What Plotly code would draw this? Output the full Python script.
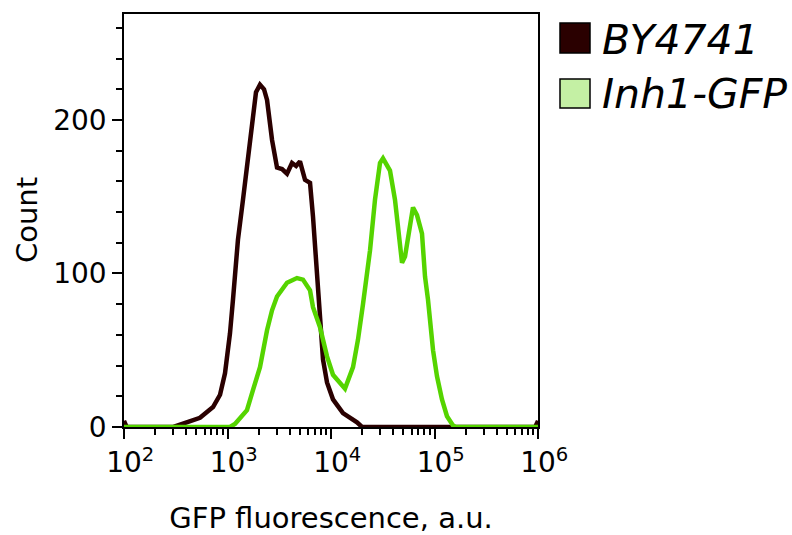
import plotly.graph_objects as go

# ---- data ----
by_x = [100, 106, 300, 372, 542, 725, 847, 946, 1057, 1130, 1262, 1411, 1578, 1726, 1885, 2060,
        2253, 2410, 2693, 3009, 3363, 3758, 4200, 4600, 5014, 5610, 6270, 6700, 7330, 7660,
        8000, 8370, 9150, 10450, 13050, 17830, 19950, 940000, 1000000]
by_y = [4, 0, 0, 2, 6, 13, 21, 35, 61, 83, 122, 148, 176, 200, 218, 223,
        220, 213, 187, 169, 168, 165, 172, 170, 173, 161, 159, 137, 104, 83,
        63, 44, 29, 18, 9, 3, 0, 0, 4]

gfp_x = [100, 1057, 1180, 1321, 1542, 1762, 2060, 2410, 2693, 3009, 3758, 4690, 5360, 6270,
         6700, 7830, 9150, 10450, 12220, 13650, 16320, 18240, 20380, 23820, 26610, 29740,
         31790, 37150, 41520, 46410, 48540, 51890, 57980, 61980, 67760, 75730, 80960, 86500,
         96800, 105700, 118100, 132000, 151000, 160000, 1000000]
gfp_y = [0, 0, 2, 6, 11, 24, 39, 63, 76, 85, 94, 97, 96, 89,
         78, 65, 46, 34, 29, 25, 39, 57, 80, 115, 148, 172,
         175, 167, 148, 122, 107, 111, 133, 143, 138, 126, 98, 83,
         50, 33, 18, 7, 1, 0, 0]

series_names = ["BY4741", "Inh1-GFP"]
line_colors = ["#2a0000", "#55d400"]
legend_fill = ["#2a0000", "#c4f0a4"]

x_major = [1e2, 1e3, 1e4, 1e5, 1e6]
x_major_text = ["<sup>&nbsp;&nbsp;</sup>10<sup>%d</sup>" % e for e in range(2, 7)]
x_minor = [k * 10 ** e for e in range(2, 6) for k in range(2, 10)]
y_major = [0, 100, 200]

FONT = "DejaVu Sans"

fig = go.Figure()
fig.add_trace(go.Scatter(x=by_x, y=by_y, mode="lines", name=series_names[0],
                         line=dict(color=line_colors[0], width=4.5), showlegend=False))
fig.add_trace(go.Scatter(x=gfp_x, y=gfp_y, mode="lines", name=series_names[1],
                         line=dict(color=line_colors[1], width=4.5), showlegend=False))

# legend drawn as squares + italic labels
L, R, T, B = 124, 538, 14, 427
def px(x):
    return (x - L) / (R - L)
def py(y):
    return (B - y) / (B - T)

leg_rows = [(23, 53, 40), (79, 108, 94)]
for i, (y0, y1, yc) in enumerate(leg_rows):
    fig.add_shape(type="rect", xref="paper", yref="paper",
                  x0=px(560), x1=px(590), y0=py(y1), y1=py(y0),
                  fillcolor=legend_fill[i], line=dict(color="black", width=1.5))
    fig.add_annotation(xref="paper", yref="paper", x=px(600), y=py(yc),
                       xanchor="left", yanchor="middle", showarrow=False,
                       text=series_names[i],
                       font=dict(family=FONT, size=41, color="black", style="italic"))

# y-axis title
fig.add_annotation(xref="paper", yref="paper", x=px(27), y=py(220),
                   xanchor="center", yanchor="middle", showarrow=False,
                   text="Count", textangle=-90,
                   font=dict(family=FONT, size=29, color="black"))

fig.update_layout(
    width=792, height=535,
    margin=dict(l=L, r=792 - R, t=T, b=535 - B, autoexpand=False),
    paper_bgcolor="white", plot_bgcolor="white",
    font=dict(family=FONT, size=28, color="black"),
    showlegend=False,
)
fig.update_xaxes(
    type="log", range=[2, 6], automargin=False,
    tickvals=x_major, ticktext=x_major_text,
    ticks="outside", ticklen=10, tickwidth=1.5, tickcolor="black",
    minor=dict(tickvals=x_minor, ticks="outside", ticklen=6, tickwidth=1.5, tickcolor="black"),
    showline=True, linecolor="black", linewidth=1.5, mirror=True,
    showgrid=False, zeroline=False,
    tickfont=dict(size=28),
    title=dict(text="GFP fluorescence, a.u.", font=dict(size=29), standoff=36),
)
fig.update_yaxes(
    range=[0, 269], automargin=False,
    tickvals=y_major,
    ticks="outside", ticklen=10, tickwidth=1.5, tickcolor="black",
    minor=dict(dtick=20, tick0=0, ticks="outside", ticklen=6, tickwidth=1.5, tickcolor="black"),
    showline=True, linecolor="black", linewidth=1.5, mirror=True,
    showgrid=False, zeroline=False,
    tickfont=dict(size=28),
)

fig.write_html("out.html")
